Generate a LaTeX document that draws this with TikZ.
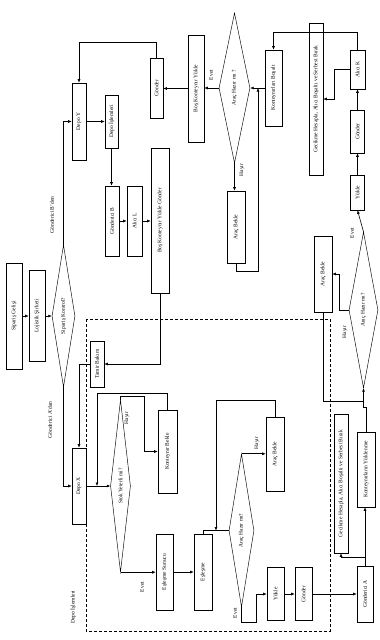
\documentclass[tikz,border=0pt]{standalone}
\usepackage{fontspec}
\setmainfont{Liberation Serif}
\usetikzlibrary{shapes.geometric,arrows.meta,calc}
\begin{document}
\begin{tikzpicture}[x=1pt,y=-1pt, font=\fontsize{5.5}{6.5}\selectfont,
 bx/.style={draw, rectangle, inner sep=0pt, line width=0.6pt},
 sz/.style 2 args={minimum width=#1pt, minimum height=#2pt},
 dm/.style={draw, diamond, inner sep=0pt, line width=0.45pt},
 ar/.style={-{Latex[length=3.5pt,width=3pt]}, line width=0.6pt},
 ln/.style={line width=0.6pt},
 lbl/.style={rotate=90, inner sep=0pt}]
\useasboundingbox[fill=white] (0,0) rectangle (380,640);

% dashed frame
\draw[dash pattern=on 3pt off 2pt, line width=0.5pt] (86,319) rectangle (330,631);

% left column
\node[bx,sz={16}{106}] (gelis) at (14,316) {\rotatebox{90}{Sipariş Gelişi}};
\node[bx,sz={16}{91}] (lojistik) at (37,316) {\rotatebox{90}{Lojistik Şirketi}};
\node[dm,sz={23}{142},shape aspect=0.16] (kontrol) at (63.5,316) {\rotatebox{90}{Sipariş Kontrol?}};

\node[bx,sz={14}{77}] (depoY) at (79,121.5) {\rotatebox{90}{Depo Y}};
\node[bx,sz={13}{60}] (gonderUL) at (156.5,88) {\rotatebox{90}{Gönder}};
\node[bx,sz={13}{53}] (depoIs) at (111.5,121.5) {\rotatebox{90}{Depo İşlemleri}};
\node[bx,sz={14}{70}] (gondB) at (112,221) {\rotatebox{90}{Gönderici B}};
\node[bx,sz={15}{70}] (aliciL) at (134.5,221) {\rotatebox{90}{Alıcı L}};
\node[bx,sz={18}{145}] (bosKYG) at (160,220.5) {\rotatebox{90}{Boş Konteynır Yükle Gönder}};

% top right
\node[bx,sz={16}{107}] (bosKY) at (196,88.5) {\rotatebox{90}{Boş Konteynır Yükle}};
\node[dm,sz={31}{150},shape aspect=0.2] (hazir1) at (234.5,88) {\rotatebox{90}{Araç Hazır mı ?}};
\node[bx,sz={18}{72}] (aracB1) at (236,227) {\rotatebox{90}{Araç Bekle}};
\node[bx,sz={17}{76}] (bosalt) at (273.5,88) {\rotatebox{90}{Konteynırları Boşalt}};
\node[bx,sz={14}{152}] (gecik1) at (316,99) {\rotatebox{90}{Gecikme Hesapla, Alıcı Boşaltı ve Serbest Bırak}};
\node[bx,sz={15}{39}] (aliciK) at (357.5,69.5) {\rotatebox{90}{Alıcı K}};
\node[bx,sz={14}{43}] (gonderR) at (357.5,131.5) {\rotatebox{90}{Gönder}};
\node[bx,sz={14}{35}] (yukleR) at (357.5,192.5) {\rotatebox{90}{Yükle}};
\node[dm,sz={29}{156},shape aspect=0.18] (hazir2) at (363.5,310) {\rotatebox{90}{Araç Hazır mı?}};
\node[bx,sz={18}{76}] (aracB2) at (323,274) {\rotatebox{90}{Araç Bekle}};

% lower part
\node[bx,sz={14}{46}] (tamir) at (97,364) {\rotatebox{90}{Tamir Bakım}};
\node[bx,sz={14}{76}] (depoX) at (79,486) {\rotatebox{90}{Depo X}};
\node[dm,sz={20}{172},shape aspect=0.12] (stok) at (120.5,486) {\rotatebox{90}{Stok Yeterli mi?}};
\node[bx,sz={19}{83}] (kontBekle) at (167.5,451.5) {\rotatebox{90}{Konteynır Bekle}};
\node[bx,sz={17}{76}] (esSun) at (164.5,572) {\rotatebox{90}{Eşleşme Sunucu}};
\node[bx,sz={18}{76}] (esles) at (203,572) {\rotatebox{90}{Eşleşme}};
\node[dm,sz={25}{153},shape aspect=0.16] (hazir3) at (241.5,530.5) {\rotatebox{90}{Araç Hazır mı?}};
\node[bx,sz={18}{74}] (aracB3) at (275,454) {\rotatebox{90}{Araç Bekle}};
\node[bx,sz={17}{53}] (yukleL) at (275.5,594) {\rotatebox{90}{Yükle}};
\node[bx,sz={17}{53}] (gonderL) at (303.5,594) {\rotatebox{90}{Gönder}};
\node[bx,sz={16}{56}] (gondA) at (365,594) {\rotatebox{90}{Gönderici A}};
\node[bx,sz={14}{139}] (gecik2) at (341,483.5) {\rotatebox{90}{Gecikme Hesapla, Alıcı Boşaltı ve Serbest Bırak}};
\node[bx,sz={18}{75}] (kontYuk) at (366,469.5) {\rotatebox{90}{Konteynırların Yüklenme}};

% labels
\node[lbl] (lGB) at (52,215) {Gönderici B'den};
\node[lbl] (lGA) at (50,420) {Gönderici A'dan};
\node[lbl] (lDI) at (73,607) {Depo İşlemleri};
\node[lbl] (e1) at (211,75) {Evet};
\node[lbl] (h1) at (242,170) {Hayır};
\node[lbl] (h2) at (127,418) {Hayır};
\node[lbl] (e2) at (142,587) {Evet};
\node[lbl] (h3) at (257,443) {Hayır};
\node[lbl] (e3) at (235,613) {Evet};
\node[lbl] (h4) at (345,332) {Hayır};
\node[lbl] (e4) at (352,233) {Evet};

% junction coordinates
\coordinate (j1) at (258,88);
\coordinate (j2) at (97,486);
\coordinate (j3) at (216,530.5);

% connectors
\draw[ar] (gelis) -- (lojistik);
\draw[ar] (lojistik) -- (kontrol.west);
\draw[ar] (kontrol.north) |- (depoY.west);
\draw[ar] (kontrol.south) |- (depoX.west);
\draw[ar] (depoY.east) -- (depoIs.west);
\draw[ar] (depoIs.south) -- (depoIs.south |- gondB.north);
\draw[ar] (gondB) -- (aliciL);
\draw[ar] (aliciL) -- (aliciL -| bosKYG.west);
\draw[ar] (bosKYG.south) |- (tamir.east);
\draw[ar] (tamir.west) -| (depoX.north);
\draw[ar] (gonderUL.north) -- ++(0,-15) -| (depoY.north);
\draw[ar] (bosKY.west) -- (bosKY.west -| gonderUL.east);
\draw[ar] (hazir1.west) -- (hazir1.west -| bosKY.east);
\draw[ar] (hazir1.south) -- (hazir1.south |- aracB1.north);
\draw[ar] (aracB1.south) -- ++(0,8) -| (j1);
\draw[ar] (bosalt.west) -- (hazir1.east);
\draw[ar] (aliciK.north) -- ++(0,-17) -| (bosalt.north);
\draw[ar] (aliciK.west) -- ++(-15,0) |- (gecik1.east);
\draw[ar] (gonderR) -- (aliciK);
\draw[ar] (yukleR) -- (gonderR);
\draw[ar] (hazir2.north) -- (yukleR.south);
\draw[ar] (hazir2.west) -- ++(-9,0) |- (aracB2.east);
\draw[ln] (aracB2.south) |- ($(hazir2.south)+(0,13)$);
\draw[ar] (kontYuk.north) -- ++(0,-24) -| (hazir2.south);
\draw[ar] (gondA.north) -- (gondA.north |- kontYuk.south);
\draw[ar] (gondA.north) -- ++(0,-8) -| (gecik2.south);
\draw[ar] (gonderL.east) -- (gondA.west);
\draw[ar] (hazir3.south) -- ++(0,15) -- ++(14.5,0) |- (yukleL.west);
\draw[ar] (yukleL) -- (gonderL);
\draw[ar] (hazir3.north) -- (hazir3.north -| aracB3.west);
\draw[ar] (aracB3.north) -- ++(0,-16) -| (j3);
\draw[ln] (esles.north) |- (hazir3.west);
\draw[ar] (stok.south) -- (stok.south -| esSun.west);
\draw[ar] (esSun) -- (esles);
\draw[ar] (depoX.east) -- (stok.west);
\draw[ar] (stok.north) -- ++(0,-3) -- ++(23.5,0) |- (kontBekle.west);
\draw[ar] (kontBekle.north) -- ++(0,-16) -| (j2);
\end{tikzpicture}
\end{document}
